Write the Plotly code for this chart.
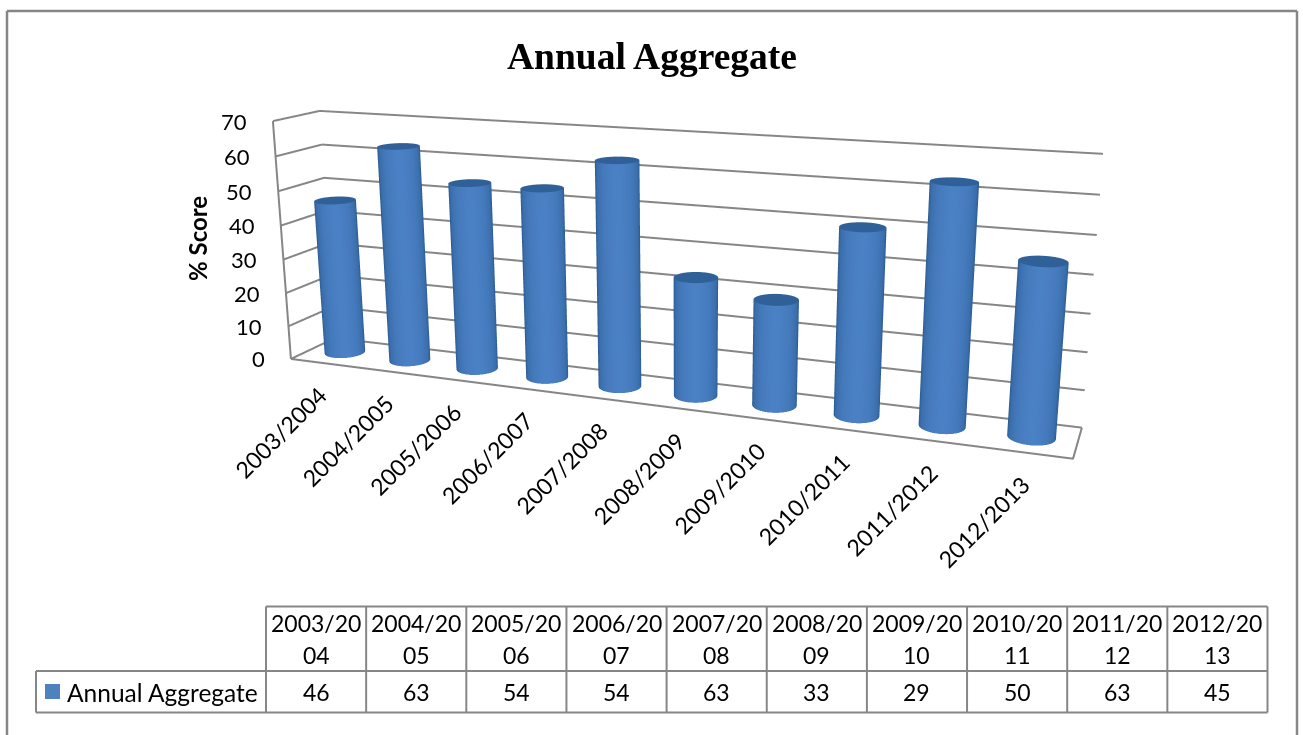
import numpy as np
import plotly.graph_objects as go

categories = ["2003/2004", "2004/2005", "2005/2006", "2006/2007", "2007/2008",
              "2008/2009", "2009/2010", "2010/2011", "2011/2012", "2012/2013"]
values = [46, 63, 54, 54, 63, 33, 29, 50, 63, 45]
z_ticks = [0, 10, 20, 30, 40, 50, 60, 70]
series_name = "Annual Aggregate"
chart_title = "Annual Aggregate"
z_title = "% Score"

# Page and scene geometry. The scene is taller than the visible page so that the
# camera's optical centre can sit in the upper part of the chart.
PAGE_W, LAYOUT_H, TOP_OFFSET = 1303, 1164, 293
SCENE_LEFT = 46
GRID = "#868686"
TEXT_FONT = "Lato"


def px(x):
    return x / PAGE_W


def py(y):
    return 1 - (y + TOP_OFFSET) / LAYOUT_H


# Camera orientation and position, plus the depth and height of the plot box.
yaw, pitch, roll = -0.36451, -0.26078, -0.00198
eye = np.array([1.20687, -3.04375, 0.81781])
box_x, box_y, box_z = 2.0, 0.20189, 0.62968

view = np.array([np.sin(yaw) * np.cos(pitch), np.cos(yaw) * np.cos(pitch), np.sin(pitch)])
side = np.cross(view, [0, 0, 1.0])
side /= np.linalg.norm(side)
top = np.cross(side, view)
up = -np.sin(roll) * side + np.cos(roll) * top
center = eye + view * np.linalg.norm(eye)

fig = go.Figure()

# Cylinders: a shaded wall and a darker cap for each season.
radius_x = 0.265
radius_y = radius_x * (box_x / len(categories)) / box_y
theta = np.linspace(0, 2 * np.pi, 97)
flat = dict(ambient=1, diffuse=0, specular=0, fresnel=0)
for i, v in enumerate(values):
    cx = i + 0.5
    xw = box_x * (cx / len(categories) - 0.5)
    facing = np.arctan2(eye[1], eye[0] - xw)
    shade = np.clip(np.cos(theta - facing), 0, 1)
    fig.add_trace(go.Surface(
        x=[cx + radius_x * np.cos(theta)] * 2,
        y=[0.5 + radius_y * np.sin(theta)] * 2,
        z=[[0] * theta.size, [v] * theta.size],
        surfacecolor=[shade, shade], cmin=0, cmax=1,
        colorscale=[[0, "#24507f"], [0.45, "#3a6eac"], [1, "#4a80c4"]],
        showscale=False, hoverinfo="skip", lighting=flat))
    fig.add_trace(go.Surface(
        x=[cx + radius_x * q * np.cos(theta) for q in (0, 1)],
        y=[0.5 + radius_y * q * np.sin(theta) for q in (0, 1)],
        z=[[v] * theta.size] * 2,
        surfacecolor=[[0] * theta.size] * 2, cmin=0, cmax=1,
        colorscale=[[0, "#2f6098"], [1, "#2f6098"]],
        showscale=False, hoverinfo="skip", lighting=flat))

# Gridlines along the side wall and back wall, plus the floor outline.
n = len(categories)
lx, ly, lz = [], [], []
for t in z_ticks:
    lx += [0, 0, n, None]
    ly += [0, 1, 1, None]
    lz += [t, t, t, None]
lx += [0, n, n, None, 0, 0]
ly += [0, 0, 1, None, 0, 0]
lz += [0, 0, 0, None, 0, z_ticks[-1]]
fig.add_trace(go.Scatter3d(x=lx, y=ly, z=lz, mode="lines",
                           line=dict(color=GRID, width=4),
                           hoverinfo="skip", showlegend=False))

scene_notes = []
for t in z_ticks:
    scene_notes.append(dict(x=0, y=0, z=t, text=str(t), showarrow=False, xanchor="right", xshift=-24,
                            font=dict(family=TEXT_FONT, size=22, color="black")))
for i, c in enumerate(categories):
    scene_notes.append(dict(x=i + 0.5, y=0, z=0, text=c, showarrow=False, textangle=-45,
                            xanchor="right", yanchor="top", xshift=12, yshift=-15,
                            font=dict(family=TEXT_FONT, size=23, color="black")))

axis_off = dict(visible=False, showspikes=False)
shapes = []
notes = []


def line(x0, y0, x1, y1, width=2.0, color=GRID):
    shapes.append(dict(type="line", xref="paper", yref="paper", x0=px(x0), y0=py(y0), x1=px(x1), y1=py(y1),
                       line=dict(color=color, width=width)))


def text(x, y, s, size=23, anchor="center", angle=0, family=TEXT_FONT, bold=False):
    notes.append(dict(xref="paper", yref="paper", x=px(x), y=py(y), text=f"<b>{s}</b>" if bold else s,
                      showarrow=False, xanchor=anchor, yanchor="middle", textangle=angle,
                      font=dict(family=family, size=size, color="black")))


# Outer chart border, open at the bottom of the page.
line(7, 11, 7, 740, 2.5)
line(7, 11, 1297, 11, 2.5)
line(1297, 11, 1297, 740, 2.5)

text(652, 56, chart_title, size=37.5, family="Liberation Serif", bold=True)
text(198, 239, z_title, size=24, angle=-90, bold=True)

# Data table beneath the plot.
table_left, col0, col_w = 36, 266, 100.15
row_y = [606.5, 671, 712.5]
table_right = col0 + col_w * n
line(col0, row_y[0], table_right, row_y[0])
line(table_left, row_y[1], table_right, row_y[1])
line(table_left, row_y[2], table_right, row_y[2])
line(table_left, row_y[1], table_left, row_y[2])
for i in range(n + 1):
    line(col0 + col_w * i, row_y[0], col0 + col_w * i, row_y[2])
for i, (c, v) in enumerate(zip(categories, values)):
    xc = col0 + col_w * (i + 0.5)
    text(xc, 623, c[:7])
    text(xc, 655, c[7:])
    text(xc, 692, str(v))
shapes.append(dict(type="rect", xref="paper", yref="paper", x0=px(45), x1=px(60), y0=py(684), y1=py(699),
                   fillcolor="#4f81bd", line=dict(width=0)))
text(65, 692, series_name, size=24.5, anchor="left")

fig.update_layout(
    width=PAGE_W, height=LAYOUT_H, margin=dict(l=0, r=0, t=0, b=0), paper_bgcolor="white", showlegend=False,
    shapes=shapes, annotations=notes,
    scene=dict(
        domain=dict(x=[SCENE_LEFT / PAGE_W, 1], y=[0, 1]),
        aspectmode="manual", aspectratio=dict(x=box_x, y=box_y, z=box_z),
        xaxis=dict(range=[0, n], **axis_off),
        yaxis=dict(range=[0, 1], **axis_off),
        zaxis=dict(range=[z_ticks[0], z_ticks[-1]], **axis_off),
        camera=dict(eye=dict(x=eye[0], y=eye[1], z=eye[2]),
                    center=dict(x=center[0], y=center[1], z=center[2]),
                    up=dict(x=up[0], y=up[1], z=up[2]),
                    projection=dict(type="perspective")),
        annotations=scene_notes))

# Slide the tall figure up so the chart fills the window.
fig.write_html("out.html", post_script=(
    "var gd=document.getElementById('{plot_id}');"
    f"gd.style.marginTop='-{TOP_OFFSET}px';"
    "document.documentElement.style.overflow='hidden';"))
